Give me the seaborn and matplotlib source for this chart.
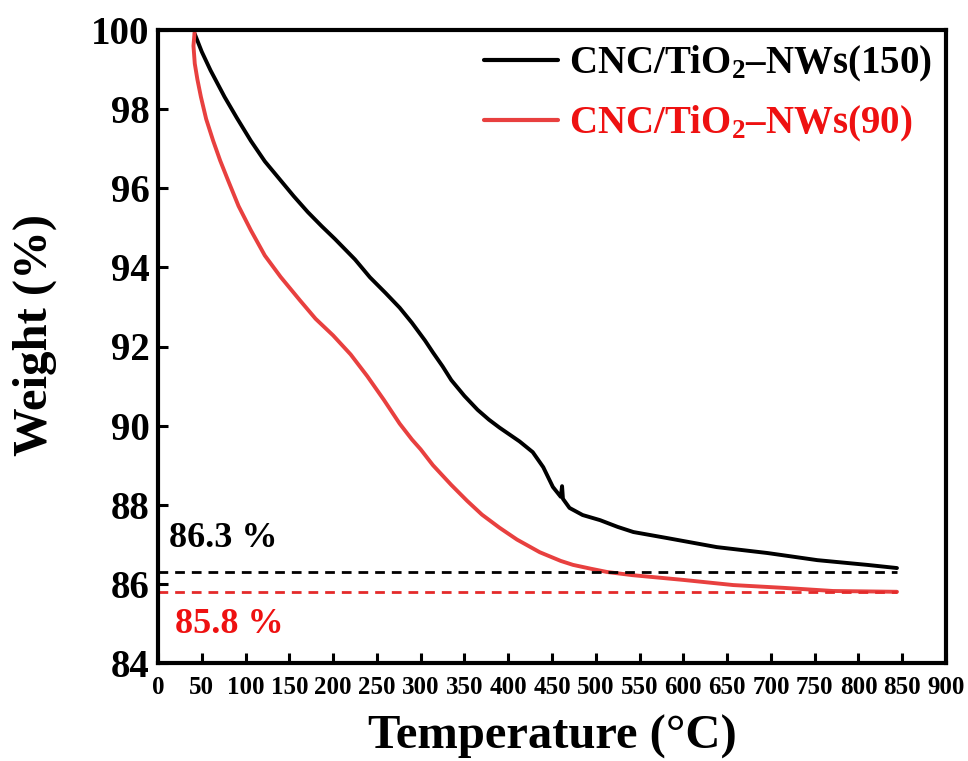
import matplotlib
matplotlib.use("Agg")
import matplotlib.pyplot as plt
import seaborn as sns
import pandas as pd

# ---- data ----
series_names = ["CNC/TiO$_2$\u2013NWs(150)", "CNC/TiO$_2$\u2013NWs(90)"]

temp_150 = [42, 50, 60, 76, 90, 106, 122, 140, 155, 171,
            187, 202, 225, 242, 260, 276, 290, 305, 314, 325,
            335, 350, 365, 378, 390, 413, 428, 440, 451, 460,
            461.5, 462.5, 470, 485, 505, 525, 543, 581, 638, 696,
            753, 810, 844]
weight_150 = [99.9, 99.45, 98.98, 98.31, 97.78, 97.2, 96.68, 96.2, 95.8, 95.4,
              95.04, 94.72, 94.2, 93.75, 93.35, 92.98, 92.6, 92.15, 91.85, 91.5,
              91.15, 90.75, 90.4, 90.15, 89.95, 89.6, 89.33, 88.95, 88.45, 88.2,
              88.47, 88.15, 87.92, 87.74, 87.61, 87.44, 87.31, 87.16, 86.93, 86.78,
              86.6, 86.48, 86.4]

temp_90 = [42, 40.5, 42, 45, 49, 55, 63, 71, 80, 92,
           106, 122, 140, 162, 180, 200, 220, 239, 258, 276,
           290, 300, 314, 335, 353, 370, 390, 410, 436, 460,
           474, 495, 513, 542, 600, 657, 714, 771, 844]
weight_90 = [100.0, 99.6, 99.15, 98.75, 98.31, 97.75, 97.2, 96.7, 96.2, 95.55,
             94.94, 94.3, 93.76, 93.17, 92.7, 92.28, 91.8, 91.25, 90.65, 90.05,
             89.65, 89.4, 89.0, 88.5, 88.1, 87.75, 87.42, 87.12, 86.8, 86.58,
             86.48, 86.38, 86.3, 86.22, 86.1, 85.97, 85.9, 85.82, 85.8]

residue_values = [86.3, 85.8]
residue_labels = ["86.3 %", "85.8 %"]
residue_end = 844

x_ticks = list(range(0, 901, 50))
y_ticks = list(range(84, 101, 2))

line_colors = ["#000000", "#E8403F"]
dash_colors = ["#000000", "#E42A2A"]
text_colors = ["#000000", "#EE1111"]

# ---- style ----
sns.set_style("ticks")
plt.rcParams["font.family"] = ["Liberation Serif", "DejaVu Serif"]
plt.rcParams["font.weight"] = "bold"
plt.rcParams["text.color"] = "black"
plt.rcParams["axes.labelcolor"] = "black"
plt.rcParams["xtick.color"] = "black"
plt.rcParams["ytick.color"] = "black"
plt.rcParams["mathtext.fontset"] = "custom"
plt.rcParams["mathtext.rm"] = "Liberation Serif:bold"
plt.rcParams["mathtext.it"] = "Liberation Serif:bold"
plt.rcParams["mathtext.bf"] = "Liberation Serif:bold"
plt.rcParams["mathtext.default"] = "rm"

df = pd.concat([
    pd.DataFrame({"Temperature": temp_150, "Weight": weight_150, "Sample": series_names[0]}),
    pd.DataFrame({"Temperature": temp_90, "Weight": weight_90, "Sample": series_names[1]}),
], ignore_index=True)

fig = plt.figure(figsize=(9.68, 7.61), dpi=100)
ax = fig.add_axes([158 / 968, 1 - 663 / 761, (946 - 158) / 968, (663 - 30) / 761])

sns.lineplot(data=df, x="Temperature", y="Weight", hue="Sample",
             palette=dict(zip(series_names, line_colors)), sort=False,
             estimator=None, linewidth=2.8, ax=ax, legend=False)

for val, col in zip(residue_values, dash_colors):
    ax.hlines(val, 0, residue_end, colors=col, linestyles=(0, (3.5, 2.5)), linewidth=2.0)

ax.text(12, 87.15, residue_labels[0], color=text_colors[0], fontsize=26,
        fontweight="bold", ha="left", va="center")
ax.text(19, 84.97, residue_labels[1], color=text_colors[1], fontsize=26,
        fontweight="bold", ha="left", va="center")

ax.set_xlim(0, 900)
ax.set_ylim(84, 100)
ax.set_xticks(x_ticks)
ax.set_yticks(y_ticks)
ax.set_xticklabels([str(t) for t in x_ticks], fontsize=18, fontweight="bold")
ax.set_yticklabels([str(t) for t in y_ticks], fontsize=28, fontweight="bold")
ax.tick_params(axis="both", direction="in", length=7, width=2.2, color="black",
               labelcolor="black")
ax.tick_params(axis="x", pad=9)
ax.tick_params(axis="y", pad=6)
ax.tick_params(top=False, right=False)
for s in ax.spines.values():
    s.set_visible(True)
    s.set_linewidth(3)
    s.set_color("black")

ax.set_xlabel("Temperature (\u00b0C)", fontsize=35, fontweight="bold", labelpad=12)
ax.set_ylabel("Weight (%)", fontsize=35, fontweight="bold")
ax.yaxis.set_label_coords(-0.128, 0.518)

handles = ax.get_lines()[:2]
leg = ax.legend(handles, series_names, loc="upper right", bbox_to_anchor=(1.0, 1.0),
                frameon=False, handlelength=1.9, handletextpad=0.3,
                labelspacing=0.52, borderaxespad=0.15, borderpad=0.2,
                prop={"family": "Liberation Serif", "weight": "bold", "size": 28})
for t, c in zip(leg.get_texts(), text_colors):
    t.set_color(c)
for h in leg.get_lines():
    h.set_linewidth(3)

fig.savefig("out.png", dpi=100, facecolor="white")
